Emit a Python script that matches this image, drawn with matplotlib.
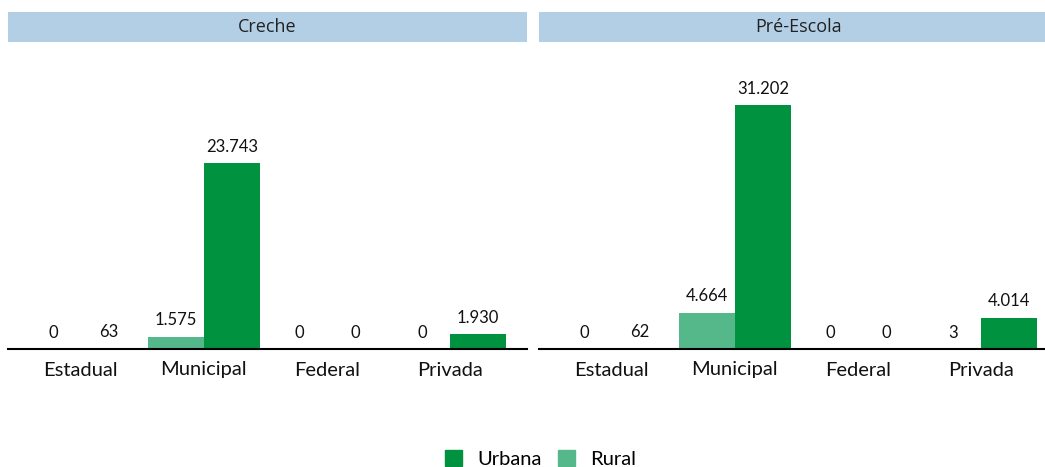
import matplotlib
matplotlib.use("Agg")
import matplotlib.pyplot as plt
import numpy as np
from matplotlib.patches import Patch

categories = ["Estadual", "Municipal", "Federal", "Privada"]
panels = ["Creche", "Pré-Escola"]
rural = {"Creche": [0, 1575, 0, 0], "Pré-Escola": [0, 4664, 0, 3]}
urbana = {"Creche": [63, 23743, 0, 1930], "Pré-Escola": [62, 31202, 0, 4014]}

C_URB = "#00923F"
C_RUR = "#55B88B"
STRIP = "#B3CFE6"

def fmt(v):
    return f"{v:,}".replace(",", ".")

W, H = 1045, 467
fig = plt.figure(figsize=(W / 100, H / 100), dpi=100)
plt.rcParams["font.family"] = ["Lato", "DejaVu Sans"]

ax_h = 307 / H
ax_b = (H - 349) / H
lefts = [8 / W, 539 / W]
width = 519 / W
ymax = 307 / 0.007825
bw = 0.455
x = np.arange(len(categories))

for i, p in enumerate(panels):
    ax = fig.add_axes([lefts[i], ax_b, width, ax_h])
    r = ax.bar(x - bw / 2, rural[p], bw, color=C_RUR)
    u = ax.bar(x + bw / 2, urbana[p], bw, color=C_URB)
    for bars, vals in ((r, rural[p]), (u, urbana[p])):
        for b, v in zip(bars, vals):
            ax.annotate(fmt(v), (b.get_x() + b.get_width() / 2, v),
                        xytext=(0, 6), textcoords="offset points",
                        ha="center", va="bottom", fontsize=12, color="#111111")
    ax.set_xlim(-0.593, 3.627)
    ax.set_ylim(0, ymax)
    ax.set_xticks(x)
    ax.set_xticklabels(categories, fontsize=14.5, color="#111111")
    ax.tick_params(axis="x", length=0, pad=9)
    ax.set_yticks([])
    for s in ("top", "right", "left"):
        ax.spines[s].set_visible(False)
    ax.spines["bottom"].set_linewidth(1.5)
    ax.spines["bottom"].set_color("black")
    ax.patch.set_alpha(0)
    # strip
    sax = fig.add_axes([lefts[i], (H - 42) / H, width, 30 / H])
    sax.set_facecolor(STRIP)
    sax.set_xticks([]); sax.set_yticks([])
    for s in sax.spines.values():
        s.set_visible(False)
    sax.text(0.5, 0.5, p, ha="center", va="center", fontsize=13,
             color="#222222", family=["Open Sans", "DejaVu Sans"],
             transform=sax.transAxes)

handles = [Patch(color=C_URB, label="Urbana"), Patch(color=C_RUR, label="Rural")]
fig.legend(handles=handles, loc="center", bbox_to_anchor=(0.517, 0.017),
           ncol=2, frameon=False, fontsize=14.5, handlelength=0.85, handleheight=0.85,
           columnspacing=0.8, handletextpad=0.75)

fig.savefig("out.png", dpi=100)
